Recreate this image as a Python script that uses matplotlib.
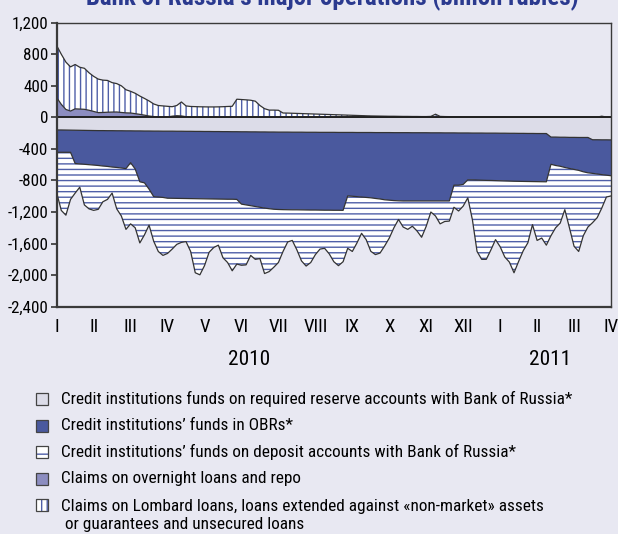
import numpy as np
import matplotlib.pyplot as plt
from matplotlib.patches import Rectangle
from matplotlib.transforms import blended_transform_factory

# narrow face if one is installed, otherwise DejaVu (condensed where available)
plt.rcParams['font.family'] = ['Liberation Sans Narrow', 'Roboto Condensed',
                               'Open Sans Condensed', 'DejaVu Sans']
plt.rcParams['font.stretch'] = 'condensed'
plt.rcParams['hatch.linewidth'] = 1.0

# readings every 1/8 month, from the start of Jan 2010 to the start of Apr 2011
months = np.arange(121) / 8.0

# billion rubles, liabilities (drawn below zero)
reserves = [160, 160, 161, 162, 163, 164, 165, 166, 167, 168,
            168, 169, 169, 170, 170, 171, 171, 172, 172, 173,
            173, 174, 174, 175, 175, 175, 176, 176, 177, 177,
            178, 178, 179, 179, 180, 180, 181, 181, 182, 182,
            183, 183, 184, 184, 185, 185, 186, 186, 187, 187,
            187, 188, 188, 188, 189, 189, 189, 190, 190, 190,
            190, 191, 191, 191, 191, 192, 192, 192, 192, 193,
            193, 193, 193, 194, 194, 194, 194, 195, 195, 195,
            195, 196, 196, 196, 197, 197, 197, 198, 198, 198,
            199, 199, 199, 200, 200, 200, 201, 201, 202, 202,
            203, 203, 204, 204, 205, 205, 205, 250, 250, 252,
            252, 254, 254, 255, 255, 255, 284, 284, 285, 285,
            286]
obr = [283, 283, 282, 281, 422, 426, 430, 434, 438, 442,
       449, 453, 461, 465, 472, 479, 404, 483, 645, 657,
       737, 831, 836, 840, 850, 851, 851, 852, 852, 853,
       853, 854, 854, 855, 855, 856, 856, 857, 856, 858,
       917, 927, 936, 946, 955, 965, 972, 979, 981, 983,
       984, 984, 984, 985, 985, 986, 986, 986, 987, 987,
       988, 987, 988, 805, 809, 813, 818, 823, 828, 835,
       842, 852, 857, 861, 864, 866, 866, 865, 865, 865,
       865, 864, 864, 864, 863, 863, 663, 662, 652, 594,
       594, 596, 598, 599, 600, 602, 603, 605, 606, 608,
       608, 609, 609, 610, 610, 611, 612, 345, 360, 368,
       383, 394, 406, 417, 435, 448, 426, 434, 441, 448,
       454]
deposits = [512, 737, 797, 597, 375, 295, 515, 560, 574, 556,
            453, 418, 330, 525, 608, 770, 775, 745, 775, 660,
            456, 565, 690, 735, 700, 644, 583, 557, 546, 670,
            939, 964, 847, 676, 615, 584, 743, 802, 907, 820,
            775, 760, 630, 670, 650, 830, 797, 735, 672, 530,
            409, 388, 508, 647, 711, 665, 565, 494, 483, 553,
            652, 702, 651, 664, 700, 587, 460, 535, 678, 712,
            685, 585, 480, 345, 236, 330, 360, 320, 380, 460,
            320, 140, 190, 290, 260, 255, 280, 327, 275, 228,
            507, 905, 1003, 1001, 880, 748, 836, 964, 1027, 1160,
            1015, 878, 777, 546, 745, 714, 803, 905, 790, 720,
            535, 752, 974, 1028, 810, 687, 625, 554, 424, 277,
            256]

# billion rubles, claims (drawn above zero)
overnight = [250, 165, 100, 80, 108, 105, 102, 90, 75, 60,
             62, 65, 67, 68, 62, 57, 55, 47, 38, 28,
             17, 10, 3, 0, 5, 15, 21, 18, 8, 0,
             0, 0, 0, 0, 0, 0, 0, 0, 0, 0,
             0, 0, 0, 0, 0, 0, 0, 0, 0, 0,
             0, 0, 0, 0, 0, 0, 0, 0, 0, 0,
             0, 0, 0, 0, 0, 0, 0, 0, 0, 0,
             0, 0, 0, 0, 0, 0, 0, 0, 0, 0,
             0, 0, 0, 0, 0, 0, 0, 0, 0, 0,
             0, 0, 0, 0, 0, 0, 0, 0, 0, 0,
             0, 0, 0, 0, 0, 0, 0, 0, 0, 0,
             0, 0, 0, 0, 0, 0, 0, 0, 0, 0,
             0]
lombard = [660, 635, 600, 560, 562, 530, 520, 475, 445, 425,
           410, 403, 373, 360, 338, 293, 275, 258, 232, 212,
           191, 160, 147, 145, 135, 120, 129, 177, 137, 138,
           136, 134, 133, 132, 132, 133, 135, 138, 140, 230,
           226, 222, 217, 205, 150, 110, 92, 92, 90, 55,
           54, 52, 50, 48, 46, 44, 42, 40, 38, 36,
           34, 32, 30, 28, 26, 24, 22, 20, 18, 17,
           16, 15, 14, 14, 13, 12, 12, 11, 11, 10,
           10, 12, 40, 12, 10, 9, 8, 8, 7, 6,
           6, 5, 5, 5, 4, 4, 4, 4, 3, 3,
           3, 3, 3, 3, 3, 3, 3, 3, 3, 3,
           3, 3, 3, 3, 3, 3, 3, 3, 15, 3,
           3]

month_labels = ['I', 'II', 'III', 'IV', 'V', 'VI', 'VII', 'VIII', 'IX', 'X',
                'XI', 'XII', 'I', 'II', 'III', 'IV']
years = ['2010', '2011']
year_pos = [5.2, 13.35]
y_ticks = [1200, 800, 400, 0, -400, -800, -1200, -1600, -2000, -2400]
y_tick_labels = ['1,200', '800', '400', '0', '-400', '-800', '-1,200',
                 '-1,600', '-2,000', '-2,400']

title = 'Bank of Russia\u2019s major operations (billion rubles)'
legend_labels = [
    'Credit institutions funds on required reserve accounts with Bank of Russia*',
    'Credit institutions\u2019 funds in OBRs*',
    'Credit institutions\u2019 funds on deposit accounts with Bank of Russia*',
    'Claims on overnight loans and repo',
    'Claims on Lombard loans, loans extended against \u00abnon-market\u00bb assets\n'
    ' or guarantees and unsecured loans',
]

# colours
bg = '#e8e8f2'
res_col = '#dcdce8'
obr_col = '#4a599e'
ovn_col = '#8c8dc0'
hatch_col = '#4f5fa8'
line_col = '#333333'
title_col = '#2b3a8f'

W, H = 618.0, 534.0
fig = plt.figure(figsize=(6.18, 5.34), dpi=100, facecolor=bg)
ax = fig.add_axes([0.0917, 0.4257, 0.897, 0.5318], facecolor=bg)

res = np.array(reserves)
ob = np.array(obr)
dep = np.array(deposits)
ovn = np.array(overnight)
lom = np.array(lombard)

# stacked levels
lvl1 = -res
lvl2 = lvl1 - ob
lvl3 = lvl2 - dep
top1 = ovn
top2 = ovn + lom

ax.fill_between(months, 0, lvl1, facecolor=res_col, lw=0)
ax.fill_between(months, lvl1, lvl2, facecolor=obr_col, lw=0)
ax.fill_between(months, lvl2, lvl3, facecolor='white', edgecolor=hatch_col,
                hatch='---', lw=0)
ax.fill_between(months, 0, top1, facecolor=ovn_col, lw=0)
ax.fill_between(months, top1, top2, facecolor='white', edgecolor=hatch_col,
                hatch='|||', lw=0)
for lv in (lvl1, lvl2, lvl3, top1, top2):
    ax.plot(months, lv, color=line_col, lw=0.9)
ax.axhline(0, color='#222222', lw=1.4)

ax.set_xlim(0, 15)
ax.set_ylim(-2400, 1200)
ax.set_yticks(y_ticks)
ax.set_yticklabels(y_tick_labels, fontsize=13)
ax.set_xticks(range(16))
ax.set_xticklabels(month_labels, fontsize=13)
ax.tick_params(axis='x', length=0, pad=8)
ax.tick_params(axis='y', length=4, width=1.2, pad=2, color=line_col)
for sp in ax.spines.values():
    sp.set_color('#3a3a3a')
    sp.set_linewidth(1.0)
ax.spines['left'].set_linewidth(1.6)
ax.spines['bottom'].set_linewidth(1.6)

trans = blended_transform_factory(ax.transData, ax.transAxes)
year_texts = [ax.text(xp, -0.185, yr, transform=trans, ha='center',
                      va='center', fontsize=14)
              for yr, xp in zip(years, year_pos)]

title_text = fig.text(0.537, 1 - 5 / H, title, ha='center', va='baseline',
                      fontsize=14, fontweight='bold', color=title_col)

# legend drawn by hand
rows = [399, 425.5, 452, 478.5, 515.5]
box_y = [399, 425.5, 452, 478.5, 505]
styles = [
    dict(facecolor=res_col, hatch=None),
    dict(facecolor=obr_col, hatch=None),
    dict(facecolor='white', hatch='--'),
    dict(facecolor=ovn_col, hatch=None),
    dict(facecolor='white', hatch='|||'),
]
legend_texts = []
for lab, ry, by, st in zip(legend_labels, rows, box_y, styles):
    x0 = 36 / W
    y0 = 1 - (by + 6) / H
    fig.add_artist(Rectangle((x0, y0), 12 / W, 12 / H, transform=fig.transFigure,
                             facecolor=st['facecolor'], edgecolor=hatch_col,
                             hatch=st['hatch'], lw=0))
    fig.add_artist(Rectangle((x0, y0), 12 / W, 12 / H, transform=fig.transFigure,
                             facecolor='none', edgecolor='#444444', lw=0.9))
    legend_texts.append(fig.text(61 / W, 1 - ry / H, lab, ha='left',
                                 va='center', fontsize=12.5, linespacing=1.25))

# size the texts to the widths they take in the original layout
fig.canvas.draw()
rend = fig.canvas.get_renderer()


def scaled(txt, target_px):
    w = txt.get_window_extent(rend).width
    return txt.get_fontsize() * target_px / w


leg_size = scaled(legend_texts[0], 512)
for t in legend_texts:
    t.set_fontsize(leg_size)
title_text.set_fontsize(scaled(title_text, 495))
yr_size = scaled(year_texts[0], 42)
for t in year_texts:
    t.set_fontsize(yr_size)
ylab = ax.get_yticklabels()[-1]
ysize = scaled(ylab, 41)
ax.tick_params(axis='y', labelsize=ysize)
ax.tick_params(axis='x', labelsize=ysize * 1.1)

fig.savefig('out.png', dpi=100, facecolor=bg)
